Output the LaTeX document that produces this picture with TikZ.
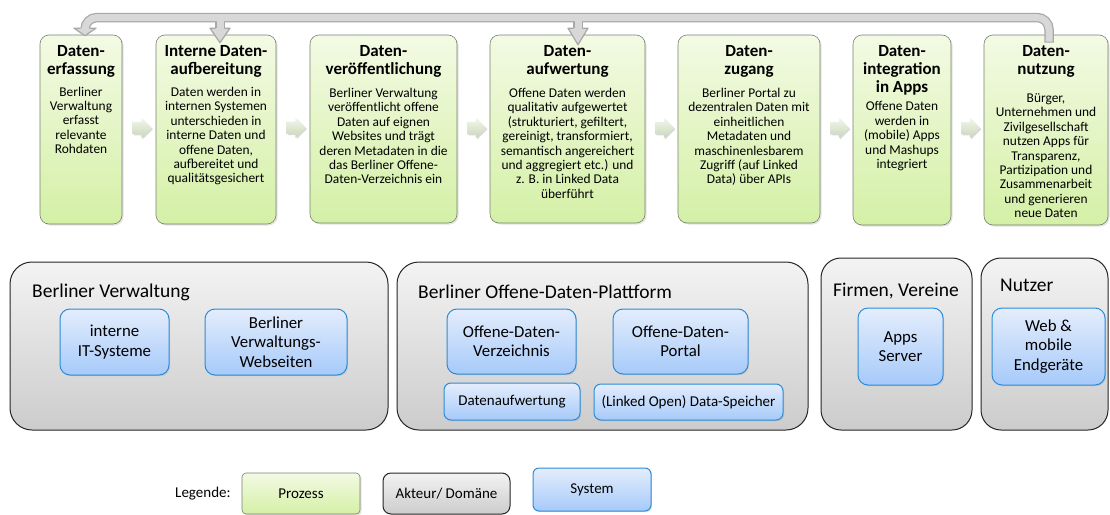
\documentclass[tikz,border=0pt]{standalone}
\usepackage{fontspec}
\setmainfont{Carlito}
\usetikzlibrary{shapes.arrows,shadows,calc}

\definecolor{procTop}{RGB}{243,250,228}
\definecolor{procBot}{RGB}{212,240,166}
\definecolor{procLine}{RGB}{120,128,112}
\definecolor{actTop}{RGB}{243,243,243}
\definecolor{actBot}{RGB}{204,204,204}
\definecolor{sysTop}{RGB}{228,237,252}
\definecolor{sysBot}{RGB}{166,202,250}
\definecolor{sysLine}{RGB}{45,140,215}
\definecolor{fbOut}{RGB}{168,168,168}
\definecolor{fbIn}{RGB}{216,216,216}
\definecolor{arTop}{RGB}{244,247,236}
\definecolor{arBot}{RGB}{200,214,184}

\newcommand\fbhead[3]{%
  \fill[fbIn] ([xshift=-#3,yshift=6.5pt]#1) -- ([xshift=#3,yshift=6.5pt]#1) -- ([yshift=-#2]#1) -- cycle;
  \draw[fbOut,line width=1.25,line join=round] ([xshift=-4.4pt,yshift=6.5pt]#1) -- ([xshift=-#3,yshift=6.5pt]#1) -- ([yshift=-#2]#1) -- ([xshift=#3,yshift=6.5pt]#1) -- ([xshift=4.4pt,yshift=6.5pt]#1);}

\tikzset{
  proc/.style={draw=procLine, line width=0.6, rounded corners=9, top color=procTop, bottom color=procBot,
    drop shadow={opacity=0.22, shadow xshift=1.5pt, shadow yshift=-1.5pt}},
  ptitle/.style={font=\fontsize{17}{18}\selectfont\bfseries, align=center, inner sep=0},
  pbody/.style={font=\fontsize{13.4}{14.4}\selectfont, align=center, inner sep=0},
  actor/.style={draw=black!85, line width=1, rounded corners=22, top color=actTop, bottom color=actBot},
  acttitle/.style={font=\fontsize{19.5}{22}\selectfont, inner sep=0},
  sys/.style={draw=sysLine, line width=1, rounded corners=10, top color=sysTop, bottom color=sysBot,
    align=center, font=\fontsize{16.8}{19.5}\selectfont, inner sep=0,
    drop shadow={opacity=0.22, shadow xshift=1.2pt, shadow yshift=-1.2pt}},
  flowarrow/.style={single arrow, single arrow head extend=4pt, inner xsep=0pt, inner ysep=6pt,
    minimum height=19, top color=arTop, bottom color=arBot, draw=none,
    drop shadow={opacity=0.3, shadow xshift=1.2pt, shadow yshift=-1.2pt}},
  fbouter/.style={draw=fbOut, line width=9.5, rounded corners=12},
  fbinner/.style={draw=fbIn, line width=7, rounded corners=12},
  legtext/.style={font=\fontsize{15}{17}\selectfont, inner sep=0}
}

\begin{document}
\begin{tikzpicture}[x=1pt,y=-1pt]
\useasboundingbox (0,0) rectangle (1110,514);

% process boxes
\node[proc, minimum width=82,  minimum height=189] (p1) at (81,129.5) {};
\node[proc, minimum width=120, minimum height=189] (p2) at (216,129.5) {};
\node[proc, minimum width=147, minimum height=188] (p3) at (383.5,129) {};
\node[proc, minimum width=155, minimum height=188] (p4) at (567.5,129) {};
\node[proc, minimum width=142, minimum height=188] (p5) at (749,129) {};
\node[proc, minimum width=98,  minimum height=190] (p6) at (902,130) {};
\node[proc, minimum width=124, minimum height=190] (p7) at (1046,130) {};

\node[ptitle, anchor=north] (t1) at (81,45.5) {Daten-\\erfassung};
\node[ptitle, anchor=north] (t2) at (216,45.5) {Interne Daten-\\aufbereitung};
\node[ptitle, anchor=north] (t3) at (383.5,45.5) {Daten-\\veröffentlichung};
\node[ptitle, anchor=north] (t4) at (567.5,45.5) {Daten-\\aufwertung};
\node[ptitle, anchor=north] (t5) at (749,45.5) {Daten-\\zugang};
\node[ptitle, anchor=north] (t6) at (902,45.5) {Daten-\\integration\\in Apps};
\node[ptitle, anchor=north] (t7) at (1046,45.5) {Daten-\\nutzung};

\node[pbody, anchor=north] (b1) at (81,86.5) {Berliner\\Verwaltung\\erfasst\\relevante\\Rohdaten};
\node[pbody, anchor=north] (b2) at (216,87) {Daten werden in\\internen Systemen\\unterschieden in\\interne Daten und\\offene Daten,\\aufbereitet und\\qualitätsgesichert};
\node[pbody, anchor=north] (b3) at (383.5,88) {Berliner Verwaltung\\veröffentlicht offene\\Daten auf eignen\\Websites und trägt\\deren Metadaten in die\\das Berliner Offene-\\Daten-Verzeichnis ein};
\node[pbody, anchor=north] (b4) at (567.5,88) {Offene Daten werden\\qualitativ aufgewertet\\(strukturiert, gefiltert,\\gereinigt, transformiert,\\semantisch angereichert\\und aggregiert etc.) und\\z. B. in Linked Data\\überführt};
\node[pbody, anchor=north] (b5) at (749,88) {Berliner Portal zu\\dezentralen Daten mit\\einheitlichen\\Metadaten und\\maschinenlesbarem\\Zugriff (auf Linked\\Data) über APIs};
\node[pbody, anchor=north] (b6) at (902,101.5) {Offene Daten\\werden in\\(mobile) Apps\\und Mashups\\integriert};
\node[pbody, anchor=north] (b7) at (1046,93.5) {Bürger,\\Unternehmen und\\Zivilgesellschaft\\nutzen Apps für\\Transparenz,\\Partizipation und\\Zusammenarbeit\\und generieren\\neue Daten};

% flow arrows between process boxes
\node[flowarrow] (a1) at ($(p1.east)!0.5!(p2.west)+(0,-1.5)$) {};
\node[flowarrow] (a2) at ($(p2.east)!0.5!(p3.west)+(0,-1.5)$) {};
\node[flowarrow] (a3) at ($(p3.east)!0.5!(p4.west)+(0,-1)$) {};
\node[flowarrow] (a4) at ($(p4.east)!0.5!(p5.west)+(0,-1)$) {};
\node[flowarrow] (a5) at ($(p5.east)!0.5!(p6.west)+(0,-1.5)$) {};
\node[flowarrow] (a6) at ($(p6.east)!0.5!(p7.west)+(0,-2)$) {};

% feedback loop
\coordinate (fbTop) at (0,17.5);
\coordinate (fbS) at ([xshift=3pt,yshift=-8pt]p7.north);
\coordinate (fbA) at ([xshift=4pt]p1.north);
\coordinate (fbB) at ([xshift=4pt]p2.north);
\coordinate (fbC) at ([xshift=10.5pt]p4.north);
\draw[fbouter] (fbS) -- (fbS |- fbTop) -- (fbA |- fbTop) -- ([yshift=6pt]fbA);
\draw[fbouter] (fbB |- fbTop) -- ([yshift=6pt]fbB);
\draw[fbouter] (fbC |- fbTop) -- ([yshift=6pt]fbC);
\draw[fbinner] ([yshift=1.2pt]fbS) -- (fbS |- fbTop) -- (fbA |- fbTop) -- ([yshift=6pt]fbA);
\draw[fbinner] (fbB |- fbTop) -- ([yshift=6pt]fbB);
\draw[fbinner] (fbC |- fbTop) -- ([yshift=6pt]fbC);
\fbhead{fbA}{1pt}{11pt}
\fbhead{fbB}{8pt}{10pt}
\fbhead{fbC}{10pt}{10pt}

% actors
\node[actor, minimum width=378, minimum height=168] (d1) at (199,346) {};
\node[actor, minimum width=411, minimum height=168] (d2) at (602.5,346) {};
\node[actor, rounded corners=20, minimum width=151, minimum height=172] (d3) at (896.5,344) {};
\node[actor, rounded corners=20, minimum width=127, minimum height=172] (d4) at (1044.5,344) {};

\node[acttitle, anchor=base west] (dt1) at (32,297) {Berliner Verwaltung};
\node[acttitle, anchor=base west] (dt2) at (418,298) {Berliner Offene-Daten-Plattform};
\node[acttitle, anchor=base west] (dt3) at (833,296) {Firmen, Vereine};
\node[acttitle, anchor=base west] (dt4) at (1000,291) {Nutzer};

% systems
\node[sys, minimum width=109, minimum height=66] (s1) at (114.5,342) {interne\\IT-Systeme};
\node[sys, minimum width=142, minimum height=66] (s2) at (276,342) {Berliner\\Verwaltungs-\\Webseiten};
\node[sys, minimum width=129, minimum height=65] (s3) at (511.5,341.5) {Offene-Daten-\\Verzeichnis};
\node[sys, minimum width=135, minimum height=65] (s4) at (680.5,341.5) {Offene-Daten-\\Portal};
\node[sys, rounded corners=7, font=\fontsize{15}{17}\selectfont, minimum width=136, minimum height=37] (s5) at (512,401.5) {Datenaufwertung};
\node[sys, rounded corners=7, font=\fontsize{15}{17}\selectfont, minimum width=189, minimum height=36] (s6) at (688.5,402) {(Linked Open) Data-Speicher};
\node[sys, minimum width=85, minimum height=77] (s7) at (900.5,346.5) {Apps\\Server};
\node[sys, minimum width=113, minimum height=77] (s8) at (1048.5,346.5) {Web \&\\mobile\\Endgeräte};

% legend
\node[legtext, anchor=west] (lg) at (175,494) {Legende:};
\node[proc, rounded corners=4, drop shadow={opacity=0}, legtext, minimum width=118, minimum height=41] (l1) at (301,493.5) {Prozess};
\node[actor, rounded corners=8, legtext, minimum width=127, minimum height=41] (l2) at (446.5,493.5) {Akteur/ Domäne};
\node[sys, rounded corners=6, legtext, drop shadow={opacity=0}, minimum width=118, minimum height=43] (l3) at (592,489.5) {System};
\end{tikzpicture}
\end{document}
